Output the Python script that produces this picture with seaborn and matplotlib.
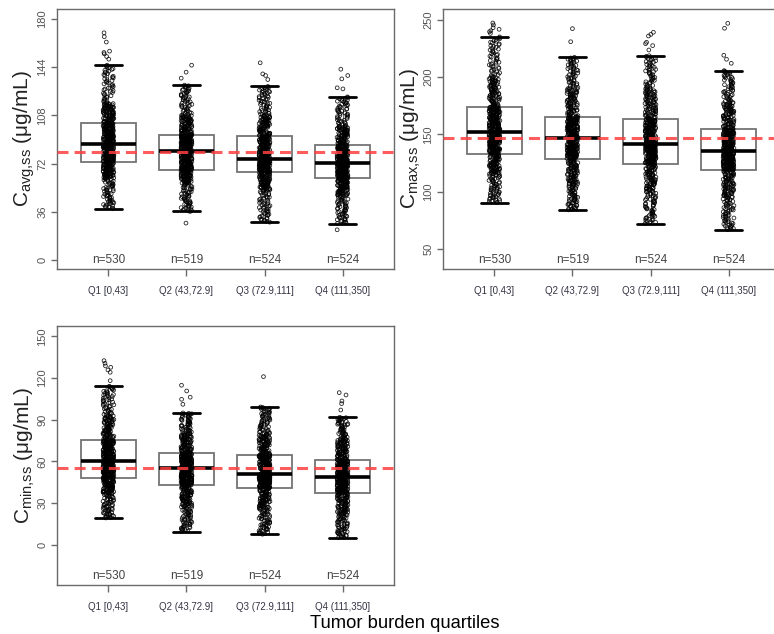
import numpy as np
import pandas as pd
import matplotlib
matplotlib.use("Agg")
import matplotlib.pyplot as plt
import matplotlib.transforms as mtransforms
import seaborn as sns

# Tumor burden quartile groups and subject counts
quartiles = ["Q1 [0,43]", "Q2 (43,72.9]", "Q3 (72.9,111]", "Q4 (111,350]"]
n_subjects = [530, 519, 524, 524]

# Distribution knots per quartile group:
# lower whisker, 10th pct, 25th pct, median, 75th pct, 90th pct, upper whisker
knot_levels = [0.10, 0.25, 0.50, 0.75, 0.90]

cavg_knots = [
    [38.4, 61.0, 73.1, 86.6, 102.3, 117.0, 145.5],
    [36.2, 57.0, 67.4, 81.6, 93.6, 108.0, 130.6],
    [28.2, 52.0, 65.4, 75.4, 92.4, 108.0, 129.6],
    [27.2, 48.0, 60.9, 72.6, 85.6, 100.0, 121.8],
]
cavg_outliers = [
    [150.0, 152.0, 154.0, 155.0, 156.0, 162.8, 166.8, 169.7],
    [27.5, 135.8, 140.3, 145.5],
    [134.8, 137.8, 139.0, 147.3],
    [22.5, 127.8, 128.6, 135.3, 137.8, 142.5],
]
cavg_ref = 81.0

cmax_knots = [
    [90.6, 115.0, 133.3, 151.9, 174.2, 200.0, 235.0],
    [84.3, 106.0, 128.4, 146.7, 165.0, 190.0, 217.2],
    [72.4, 100.0, 124.6, 141.4, 163.8, 190.0, 218.6],
    [67.1, 95.0, 119.1, 135.6, 154.5, 178.0, 205.6],
]
cmax_outliers = [
    [238.0, 239.5, 240.4, 241.6, 243.0, 245.4, 247.1],
    [230.8, 242.2],
    [223.6, 227.4, 229.1, 230.3, 235.8, 237.2, 239.0],
    [212.0, 215.5, 219.0, 242.5, 246.8],
]
cmax_ref = 147.2

cmin_knots = [
    [19.4, 37.0, 48.4, 60.6, 75.5, 93.0, 114.1],
    [9.6, 28.0, 42.9, 55.4, 65.9, 80.0, 94.9],
    [7.7, 26.0, 41.0, 51.0, 64.7, 80.0, 99.2],
    [5.3, 22.0, 37.6, 48.6, 61.1, 76.0, 91.8],
]
cmin_outliers = [
    [118.1, 124.1, 125.8, 127.7, 128.7, 130.6, 132.5],
    [101.1, 104.7, 106.2, 110.7, 114.8],
    [121.0],
    [97.0, 101.6, 103.5, 107.8, 109.5],
]
cmin_ref = 55.6


def group_values(knots, outliers, n):
    """Spread n observations over the quantile knots of one group."""
    low = sorted(v for v in outliers if v < knots[0])
    high = sorted(v for v in outliers if v > knots[-1])
    m = n - len(low) - len(high)
    p = (np.arange(m) + len(low)) / (n - 1)
    levels = [len(low) / (n - 1)] + knot_levels + [(n - 1 - len(high)) / (n - 1)]
    inner = np.interp(p, levels, knots)
    return np.concatenate([low, inner, high])


def panel_frame(knots, outliers):
    vals = [group_values(k, o, n) for k, o, n in zip(knots, outliers, n_subjects)]
    return pd.DataFrame({
        "quartile": np.repeat(quartiles, [len(v) for v in vals]),
        "value": np.concatenate(vals),
    })


sns.set_style("white")
plt.rcParams["font.family"] = ["Liberation Sans", "DejaVu Sans"]
plt.rcParams["mathtext.fontset"] = "custom"
plt.rcParams["mathtext.rm"] = "Liberation Sans"

fig = plt.figure(figsize=(7.74, 6.34), dpi=100)

W, H = 774.0, 634.0
panels = [
    dict(rect=[57 / W, 1 - 269 / H, 337 / W, 260 / H], knots=cavg_knots,
         outliers=cavg_outliers, ref=cavg_ref, ylim=(-6.8, 187.5),
         yticks=[0, 36, 72, 108, 144, 180], sub="avg{,}ss"),
    dict(rect=[443 / W, 1 - 269 / H, 337 / W, 260 / H], knots=cmax_knots,
         outliers=cmax_outliers, ref=cmax_ref, ylim=(32.8, 259.3),
         yticks=[50, 100, 150, 200, 250], sub="max{,}ss"),
    dict(rect=[57 / W, 1 - 585 / H, 337 / W, 259 / H], knots=cmin_knots,
         outliers=cmin_outliers, ref=cmin_ref, ylim=(-28.8, 157.4),
         yticks=[0, 30, 60, 90, 120, 150], sub="min{,}ss"),
]

spine_grey = "#6a6a6a"

for spec in panels:
    ax = fig.add_axes(spec["rect"])
    df = panel_frame(spec["knots"], spec["outliers"])

    sns.boxplot(
        data=df, x="quartile", y="value", order=quartiles, ax=ax,
        width=0.71, showfliers=False, color="white", linecolor="#747474",
        linewidth=1.3,
        medianprops=dict(color="black", linewidth=2.6, zorder=5),
        capprops=dict(color="black", linewidth=2.0, zorder=5),
        whiskerprops=dict(color="#747474", linewidth=0.8),
    )
    for patch in ax.patches:
        patch.set_facecolor("none")

    n_before = len(ax.collections)
    sns.stripplot(
        data=df, x="quartile", y="value", order=quartiles, ax=ax,
        jitter=0.07, size=2.7, color="black", linewidth=0.6, zorder=3,
    )
    for coll in ax.collections[n_before:]:
        coll.set_facecolor("none")
        coll.set_edgecolor((0, 0, 0, 0.85))
        coll.set_linewidth(0.6)

    ax.axhline(spec["ref"], color="#ff4040", alpha=0.85, lw=2.2,
               ls=(0, (3.6, 2.0)), zorder=6)

    ax.set_xlim(-0.66, 3.66)
    ax.set_ylim(*spec["ylim"])
    ax.set_yticks(spec["yticks"])
    ax.set_yticklabels([str(t) for t in spec["yticks"]], rotation=90,
                       va="center", fontsize=8, color="#555555")
    ax.set_xticks(range(len(quartiles)))
    ax.set_xticklabels(quartiles, fontsize=7.0, color="#333344")
    ax.tick_params(axis="y", direction="out", length=4, width=1,
                   color=spine_grey, pad=3, left=True)
    ax.tick_params(axis="x", direction="out", length=5, width=1,
                   color=spine_grey, pad=7, bottom=True)
    ax.set_xlabel("")
    ax.set_ylabel(r"C$_{\mathregular{" + spec["sub"] + r"}}$ (μg/mL)",
                  fontsize=15, color="#222222")
    ax.yaxis.set_label_coords(-0.058, 0.5)
    for s in ax.spines.values():
        s.set_visible(True)
        s.set_color(spine_grey)
        s.set_linewidth(1.0)

    trans = mtransforms.blended_transform_factory(ax.transData, ax.transAxes)
    for i, n in enumerate(n_subjects):
        ax.text(i, 0.035, f"n={n}", transform=trans, ha="center",
                va="center", fontsize=8.5, color="#444444")

fig.text(405 / W, 1 - 623 / H, "Tumor burden quartiles", ha="center",
         va="center", fontsize=13.2, color="black")

fig.savefig("out.png", dpi=100)
